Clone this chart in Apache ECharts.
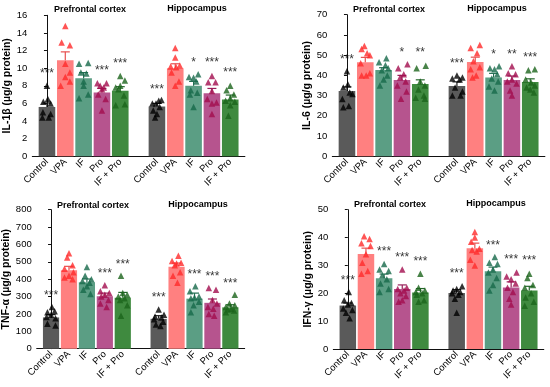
<!DOCTYPE html>
<html><head><meta charset="utf-8">
<script src="https://cdn.jsdelivr.net/npm/echarts@6/dist/echarts.min.js"></script>
<style>html,body{margin:0;padding:0;background:#fff}#c{width:550px;height:387px}</style>
</head><body><div id="c"></div>
<script>
const groups = ['Control', 'VPA', 'IF', 'Pro', 'IF + Pro'];
const xIdx = [0, 1, 2, 3, 4, 6, 7, 8, 9, 10];
const regionTitles = ['Prefrontal cortex', 'Hippocampus'];

// ---- IL-1β ----
const il1bName = 'IL-1β (µg/g protein)';
const il1bTicks = [0, 16, 2];
const il1bMean = [5.6, 10.9, 8.85, 7.25, 7.45, 5.65, 10.0, 8.0, 7.15, 6.45];
const il1bTop = [6.05, 11.85, 9.5, 7.7, 7.9, 6.0, 10.5, 8.5, 7.7, 6.95];
const il1bSig = ['***', '', '', '***', '***', '***', '', '*', '***', '***'];
const il1bSigY = [9.6, null, null, 9.9, 10.7, 7.8, null, 10.8, 10.8, 9.7];
const il1bPts = [
  [[0,8.0],[0.05,6.5],[-0.2,6.2],[0.2,6.0],[-0.22,5.0],[0.2,4.8],[-0.25,4.4],[0.1,4.4]],
  [[0,14.8],[-0.2,12.9],[0.25,12.6],[0,10.5],[0.25,9.5],[-0.25,8.0],[0.25,8.5],[0,9.0]],
  [[-0.25,10.5],[0.25,10.6],[-0.15,9.5],[0.15,9.4],[0,8.5],[-0.25,6.6],[0.25,7.0],[0,8.0]],
  [[-0.25,8.3],[0.25,8.3],[-0.1,8.0],[0.1,7.8],[0,7.6],[-0.2,7.0],[0.2,6.5],[0,5.2]],
  [[0,9.1],[-0.25,7.8],[0.25,8.6],[0,8.0],[-0.1,7.6],[0.2,6.9],[-0.25,5.8],[0.25,5.9]],
  [[-0.25,6.0],[0.1,6.3],[0.25,6.4],[-0.05,6.0],[0.15,5.6],[-0.2,5.2],[0,4.8],[-0.1,4.4]],
  [[0,12.3],[0,11.2],[-0.25,10.2],[0.25,10.3],[0.05,10.1],[-0.2,9.5],[0.2,8.5],[0,8.0]],
  [[-0.25,9.0],[0.25,9.3],[0,8.9],[0.15,8.5],[-0.15,7.5],[0.2,7.2],[-0.2,7.0],[0,5.6]],
  [[0,9.1],[-0.2,8.4],[0.2,8.4],[0,7.4],[-0.25,6.5],[0.25,6.1],[0,6.0],[0,4.8]],
  [[0,8.0],[-0.2,7.5],[0.2,7.0],[0,6.6],[-0.25,6.3],[0.25,6.2],[0,5.8],[-0.1,4.6]]
];

// ---- IL-6 ----
const il6Name = 'IL-6 (µg/g protein)';
const il6Ticks = [0, 70, 10];
const il6Mean = [32.3, 46.5, 42.7, 37.7, 35.8, 34.8, 46.6, 38.9, 37.7, 36.7];
const il6Top = [34.3, 48.9, 43.8, 40.0, 37.8, 36.8, 49.0, 41.0, 39.7, 38.3];
const il6Sig = ['***', '', '', '*', '**', '***', '', '*', '**', '***'];
const il6SigY = [48.6, null, null, 52.2, 52, 46.8, null, 51.4, 51.2, 49.8];
const il6Pts = [
  [[0,42],[0.05,35.6],[-0.2,34],[0.15,31.5],[0.3,30.8],[-0.25,28.3],[0.1,24.9],[-0.2,24.2]],
  [[-0.05,54.5],[-0.2,53],[0.1,51],[0.25,50],[-0.25,46],[0.25,41],[-0.2,40],[0.05,40]],
  [[0.15,48.5],[-0.25,46.5],[0.1,45],[0.25,43.5],[-0.1,42.5],[0.2,40],[0,38],[-0.2,35]],
  [[0.3,45.5],[-0.2,43.5],[0.1,40.5],[-0.1,39],[0.2,37],[-0.25,35],[0.25,32],[-0.05,28.5]],
  [[0.3,44.8],[-0.2,43.5],[0,37],[0.25,35],[-0.1,33],[0.2,30],[-0.25,29],[0.25,28.5]],
  [[0,40],[0.3,39],[-0.25,38.5],[0.15,38],[-0.1,34],[0.3,32],[-0.25,30],[0.2,30]],
  [[0.25,55],[-0.25,53.5],[0.1,51],[-0.1,47],[0.25,44],[-0.25,43],[0.05,40],[-0.15,39]],
  [[0.3,44.5],[-0.2,43.5],[0.05,43],[0.2,40.5],[-0.1,38.5],[0.25,37],[-0.25,34.5],[0.05,32.5]],
  [[0,44.5],[-0.2,41],[0.2,40.5],[0,38],[-0.25,37],[0.25,36],[-0.1,32.5],[0,30]],
  [[0.25,43],[-0.1,42.5],[-0.25,38],[0.05,36.5],[0.25,35],[-0.2,34],[0,33],[0.2,31.5]]
];

// ---- TNF-α ----
const tnfName = 'TNF-α (µg/g protein)';
const tnfTicks = [0, 800, 100];
const tnfMean = [180, 452, 383, 302, 293, 172, 471, 288, 264, 238];
const tnfTop = [196, 474, 401, 320, 324, 190, 493, 320, 286, 253];
const tnfSig = ['***', '', '', '***', '***', '***', '', '***', '***', '***'];
const tnfSigY = [315, null, null, 441, 497, 305, null, 439, 428, 384];
const tnfPts = [
  [[0.05,240],[-0.2,210],[0.2,215],[0,195],[-0.25,182],[0.25,175],[-0.2,144],[0.25,134]],
  [[0,550],[-0.1,525],[0.2,480],[-0.25,460],[0.25,440],[0,420],[-0.25,410],[0.2,400]],
  [[0,470],[-0.1,420],[0.25,400],[-0.25,390],[0.15,380],[0,360],[-0.2,340],[0.2,315]],
  [[0,365],[-0.25,330],[0.25,320],[0,310],[-0.2,300],[0.2,280],[-0.25,260],[0.1,240]],
  [[-0.1,420],[0,320],[0.25,310],[-0.25,300],[0.1,290],[-0.15,280],[0.25,250],[-0.1,190]],
  [[0,225],[0.3,195],[-0.2,185],[0.15,180],[-0.25,170],[0.25,155],[-0.15,140],[0.1,130]],
  [[0.1,535],[-0.25,505],[0.25,495],[0,490],[-0.1,480],[0.2,440],[-0.2,420],[0.05,380]],
  [[0.05,360],[-0.25,330],[0.25,300],[0,295],[-0.2,290],[0.25,270],[-0.05,250],[-0.2,210]],
  [[-0.2,350],[0.2,340],[0,280],[0.25,260],[-0.25,240],[0.05,230],[-0.2,200],[0.1,190]],
  [[0.25,310],[-0.05,260],[0.25,250],[-0.25,240],[0.05,230],[-0.15,225],[0.2,220],[-0.25,210]]
];

// ---- IFN-γ ----
const ifnName = 'IFN-γ (µg/g protein)';
const ifnTicks = [0, 50, 10];
const ifnMean = [15.6, 34.1, 25.4, 21.5, 20.3, 20.1, 36.2, 27.9, 22.1, 21.0];
const ifnTop = [16.5, 36.2, 26.9, 23.0, 21.7, 21.3, 38.0, 29.4, 24.1, 22.5];
const ifnSig = ['***', '', '***', '***', '***', '***', '', '***', '***', '***'];
const ifnSigY = [25.4, null, 35.6, 33.6, 32, 27.6, null, 37.8, 32.7, 32.4];
const ifnPts = [
  [[0.05,20.5],[-0.2,17.5],[0.2,16.5],[0,16],[-0.25,14.5],[0.25,14],[-0.1,13],[0.1,11]],
  [[-0.1,40.5],[0.2,39.5],[-0.25,38],[0.25,37],[0,34],[-0.2,31],[0.1,28],[-0.25,27]],
  [[0,30.5],[-0.25,28.5],[0.25,28],[-0.1,26.5],[0.15,25],[-0.2,23.5],[0.25,21.5],[-0.25,20.5]],
  [[0,28.5],[-0.25,21.5],[0.25,22],[0.1,21],[-0.1,20],[0.2,19],[-0.2,17],[0,17.5]],
  [[0,27],[-0.1,22],[0.25,21],[-0.25,20.5],[0.1,20],[-0.2,19.5],[0.2,17.5],[-0.1,17]],
  [[0.3,22.5],[0,21.5],[-0.2,21],[0.2,20.5],[-0.25,20],[0.1,19.5],[-0.1,18],[0,13]],
  [[0,42],[0,40],[-0.2,38.5],[0.25,36],[-0.15,35.5],[0.1,35],[-0.25,32],[0,30]],
  [[0.1,33],[-0.2,31],[0.25,30.5],[0,28.5],[-0.25,27.5],[0.2,25.5],[0,23],[-0.2,21]],
  [[0.3,27.5],[-0.25,26],[0,25],[0.25,23.5],[-0.2,22],[0.1,20.5],[-0.1,18],[0,16]],
  [[0,27],[-0.1,25.5],[0.2,23],[-0.25,22],[0.1,20],[-0.2,18.5],[0.25,17],[-0.25,15.5]]
];

// ---- styles ----
const barColors = ['#5a5a5a', '#ff8080', '#5b9e84', '#b6548e', '#3f8a3f'];
const ptColors = ['#000000', '#ff2a2a', '#17694a', '#a30d4e', '#1b641b'];
const errColors = ['#1a1a1a', '#e85050', '#236e52', '#98205a', '#23652a'];
const FONT = 'Liberation Sans, Arial, sans-serif';

const panels = [
  {name: il1bName, ticks: il1bTicks, mean: il1bMean, top: il1bTop, sig: il1bSig, sigY: il1bSigY, pts: il1bPts,
   grid: {left: 32.3, top: 15.3, width: 212.6, height: 141}, nameGap: 17, barW: 16.6,
   titles: [[90, 5], [197, 4]]},
  {name: il6Name, ticks: il6Ticks, mean: il6Mean, top: il6Top, sig: il6Sig, sigY: il6SigY, pts: il6Pts,
   grid: {left: 332.3, top: 14.7, width: 212.6, height: 141.6}, nameGap: 17, barW: 16.6,
   titles: [[389, 5], [497, 4]]},
  {name: tnfName, ticks: tnfTicks, mean: tnfMean, top: tnfTop, sig: tnfSig, sigY: tnfSigY, pts: tnfPts,
   grid: {left: 36.7, top: 209.7, width: 208, height: 139}, nameGap: 21, barW: 16.2,
   titles: [[93, 201], [198, 200]]},
  {name: ifnName, ticks: ifnTicks, mean: ifnMean, top: ifnTop, sig: ifnSig, sigY: ifnSigY, pts: ifnPts,
   grid: {left: 333.3, top: 209.7, width: 210.5, height: 139.3}, nameGap: 16, barW: 16.5,
   titles: [[390, 200], [496, 199]]}
];

const grid = [], xAxis = [], yAxis = [], series = [], title = [];
panels.forEach((p, k) => {
  grid.push(Object.assign({containLabel: false, outerBoundsMode: 'none'}, p.grid));
  p.titles.forEach((t, j) => title.push({
    text: regionTitles[j], left: t[0], top: t[1], textAlign: 'center', padding: 0,
    textStyle: {fontFamily: FONT, fontSize: 9, fontWeight: 'bold', color: '#000'}
  }));
  xAxis.push({
    type: 'value', gridIndex: k, min: -0.8, max: 10.8,
    splitLine: {show: false}, axisTick: {show: false},
    axisLine: {show: true, onZero: false, lineStyle: {color: '#111', width: 1}},
    axisLabel: {
      customValues: xIdx, rotate: 45, margin: 4, fontFamily: FONT, fontSize: 9.5, color: '#000',
      formatter: v => groups[v < 5 ? v : v - 6]
    }
  });
  yAxis.push({
    type: 'value', gridIndex: k, min: p.ticks[0], max: p.ticks[1], interval: p.ticks[2],
    splitLine: {show: false},
    axisLine: {show: true, lineStyle: {color: '#111', width: 1}},
    axisTick: {show: true, length: 3, lineStyle: {color: '#111'}},
    axisLabel: {fontFamily: FONT, fontSize: 9.5, color: '#000', margin: 5},
    name: p.name, nameLocation: 'middle', nameGap: p.nameGap,
    nameTextStyle: {fontFamily: FONT, fontSize: 10.5, fontWeight: 'bold', color: '#000'}
  });
  series.push({
    type: 'bar', xAxisIndex: k, yAxisIndex: k, barWidth: p.barW, z: 2,
    data: p.mean.map((m, i) => ({value: [xIdx[i], m], itemStyle: {color: barColors[i % 5]}}))
  });
  series.push({
    type: 'custom', xAxisIndex: k, yAxisIndex: k, z: 3,
    data: p.mean.map((m, i) => [xIdx[i], m, p.top[i], i % 5]),
    renderItem: (params, api) => {
      const a = api.coord([api.value(0), api.value(1)]);
      const b = api.coord([api.value(0), api.value(2)]);
      const col = errColors[api.value(3)];
      const st = {stroke: col, lineWidth: 1.2};
      return {type: 'group', children: [
        {type: 'line', shape: {x1: a[0], y1: a[1], x2: b[0], y2: b[1]}, style: st},
        {type: 'line', shape: {x1: b[0] - 4.5, y1: b[1], x2: b[0] + 4.5, y2: b[1]}, style: st}
      ]};
    }
  });
  const pts = [];
  p.pts.forEach((arr, i) => arr.forEach(d => pts.push({
    value: [xIdx[i] + d[0], d[1]], itemStyle: {color: ptColors[i % 5]}
  })));
  series.push({
    type: 'scatter', xAxisIndex: k, yAxisIndex: k, symbol: 'triangle', symbolSize: 6.5, z: 4,
    data: pts
  });
  const sig = [];
  p.sig.forEach((s, i) => { if (s) sig.push({value: [xIdx[i], p.sigY[i]], label: {formatter: s}}); });
  series.push({
    type: 'scatter', xAxisIndex: k, yAxisIndex: k, symbolSize: 1, z: 5,
    itemStyle: {color: 'rgba(0,0,0,0)'},
    label: {show: true, position: 'inside', fontFamily: FONT, fontSize: 12, color: '#000', offset: [0, 2]},
    data: sig
  });
});

const chart = echarts.init(document.getElementById('c'), null, {renderer: 'canvas'});
chart.setOption({animation: false, title, grid, xAxis, yAxis, series});
</script></body></html>
